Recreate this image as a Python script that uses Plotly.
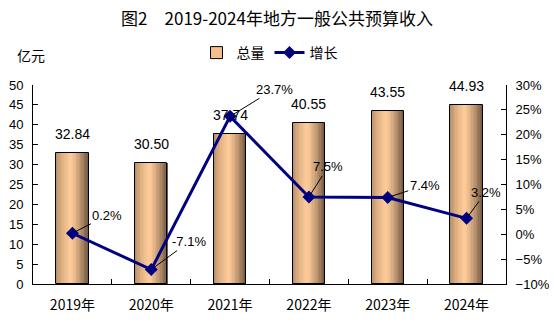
import plotly.graph_objects as go

categories = ["2019年", "2020年", "2021年", "2022年", "2023年", "2024年"]
totals = [32.84, 30.50, 37.74, 40.55, 43.55, 44.93]
growth = [0.2, -7.1, 23.7, 7.5, 7.4, 3.2]
total_labels = ["32.84", "30.50", "37.74", "40.55", "43.55", "44.93"]
growth_labels = ["0.2%", "-7.1%", "23.7%", "7.5%", "7.4%", "3.2%"]
label_offsets = [(35, -18), (38, -28), (44, -27), (19, -30), (37, -12), (19, -26)]

FONT = "Liberation Sans, Arial, Noto Sans CJK SC"
CJK = "Noto Sans CJK SC, Liberation Sans"

def hex2rgb(h):
    h = h.lstrip("#")
    return [int(h[i:i + 2], 16) for i in (0, 2, 4)]

def lerp(c1, c2, t):
    a, b = hex2rgb(c1), hex2rgb(c2)
    return "rgb(%d,%d,%d)" % tuple(round(a[i] + (b[i] - a[i]) * t) for i in range(3))

left_c, mid_c, right_c = "#A9835F", "#FFCC99", "#6F5640"
BW = 0.41
N = 24
fig = go.Figure()
# legend entry for bars
fig.add_trace(go.Bar(x=[None], y=[None], name="总量",
                     marker=dict(color="#F2BE8C", line=dict(color="black", width=1)),
                     showlegend=True))
dw = BW / N
for j in range(N):
    t = (j + 0.5) / N
    peak = 0.45
    if t < peak:
        col = lerp(left_c, mid_c, (t / peak) ** 0.6)
    else:
        col = lerp(mid_c, right_c, ((t - peak) / (1 - peak)) ** 1.3)
    fig.add_trace(go.Bar(x=categories, y=totals, width=[dw * 1.05] * len(categories),
                         offset=-BW / 2 + j * dw, marker=dict(color=col, line=dict(width=0)),
                         showlegend=False, hoverinfo="skip"))
# outline
fig.add_trace(go.Bar(x=categories, y=totals, width=[BW] * len(categories),
                     marker=dict(color="rgba(0,0,0,0)", line=dict(color="black", width=1)),
                     showlegend=False, hoverinfo="skip"))
fig.add_trace(go.Scatter(x=categories, y=growth, name="增长", yaxis="y2",
                         mode="lines+markers",
                         line=dict(color="#000080", width=3),
                         marker=dict(symbol="diamond", size=10, color="#000080")))

annotations = []
for c, v, lab in zip(categories, totals, total_labels):
    annotations.append(dict(x=c, y=v, xref="x", yref="y", text=lab, showarrow=False,
                            yanchor="bottom", yshift=9,
                            font=dict(family=FONT, size=14, color="black")))
for c, g, lab, (ax, ay) in zip(categories, growth, growth_labels, label_offsets):
    annotations.append(dict(x=c, y=g, xref="x", yref="y2", text=lab, showarrow=True,
                            arrowhead=0, arrowwidth=1, arrowcolor="black",
                            ax=ax, ay=ay, standoff=3,
                            font=dict(family=FONT, size=13, color="black")))
annotations.append(dict(x=-18 / (554 - 33 - 48), y=1 + (85 - 55) / (322 - 85 - 38),
                        xref="paper", yref="paper", text="亿元", showarrow=False,
                        xanchor="left", yanchor="middle",
                        font=dict(family=CJK, size=14, color="black")))

fig.update_layout(
    width=554, height=322,
    margin=dict(l=33, r=48, t=85, b=38),
    paper_bgcolor="white", plot_bgcolor="white",
    barmode="overlay", bargap=0,
    title=dict(text="图2　2019-2024年地方一般公共预算收入", x=0.5, xanchor="center",
               y=1 - 19 / 322, yanchor="middle", automargin=False,
               font=dict(family=CJK, size=17, color="black")),
    legend=dict(orientation="h", x=0.5, xanchor="center", y=1 - 53 / 322, yanchor="middle",
                yref="container", font=dict(family=CJK, size=14, color="black"),
                itemwidth=30, bgcolor="rgba(0,0,0,0)"),
    xaxis=dict(type="category", showline=True, linecolor="black", linewidth=1,
               ticks="inside", tickson="boundaries", ticklen=5, tickcolor="black",
               ticklabelstandoff=8, automargin=False,
               tickfont=dict(family=CJK, size=14, color="black"), showgrid=False,
               range=[-0.5, 5.5]),
    yaxis=dict(range=[0, 50], dtick=5, showline=True, linecolor="black", linewidth=1,
               ticks="inside", ticklen=5, tickcolor="black", showgrid=False, zeroline=False,
               ticklabelstandoff=6, automargin=False,
               tickfont=dict(family=FONT, size=13, color="black")),
    yaxis2=dict(range=[-10, 30], dtick=5, overlaying="y", side="right", ticksuffix="%",
                showline=True, linecolor="black", linewidth=1,
                ticks="inside", ticklen=5, tickcolor="black", showgrid=False, zeroline=False,
                ticklabelstandoff=6, automargin=False,
                tickfont=dict(family=FONT, size=13, color="black")),
    annotations=annotations,
)

fig.write_html("out.html")
